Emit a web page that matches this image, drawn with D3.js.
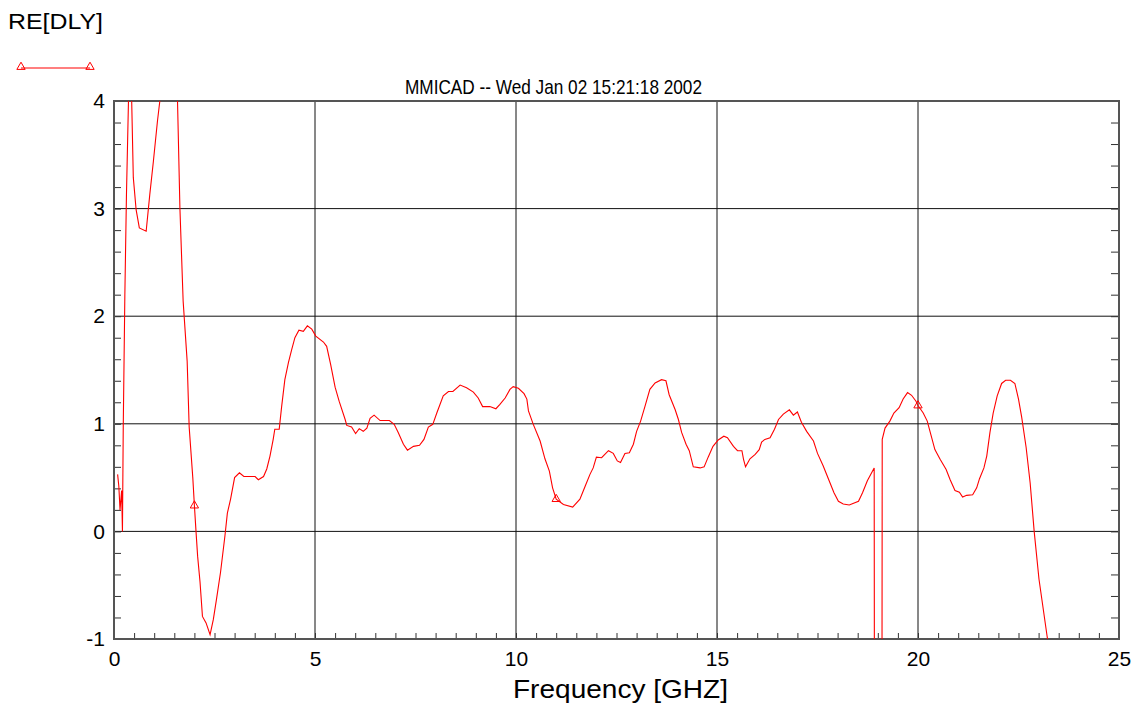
<!DOCTYPE html>
<html><head><meta charset="utf-8">
<script src="https://cdn.jsdelivr.net/npm/d3@7"></script>
<style>body{margin:0;background:#fff}svg{display:block}text{font-family:"Liberation Sans",Arial,sans-serif;fill:#000}</style>
</head><body>
<script>
const freq = [0.09,0.12,0.15,0.19,0.21,0.23,0.27,0.31,0.36,0.40,0.44,0.48,0.55,0.63,0.8,0.89,0.98,1.08,1.14,1.36,1.58,1.64,1.72,1.82,1.87,1.96,2.0,2.04,2.08,2.14,2.2,2.29,2.39,2.47,2.55,2.65,2.76,2.82,2.9,3.0,3.12,3.23,3.51,3.59,3.72,3.8,3.88,3.96,4.0,4.11,4.17,4.25,4.34,4.42,4.5,4.6,4.71,4.81,4.92,5.02,5.21,5.29,5.39,5.5,5.6,5.75,5.79,5.91,6.01,6.1,6.2,6.29,6.37,6.47,6.62,6.85,6.97,7.07,7.2,7.3,7.45,7.6,7.71,7.82,7.93,8.03,8.19,8.32,8.43,8.61,8.77,8.94,9.06,9.17,9.35,9.5,9.6,9.73,9.85,9.93,10.06,10.2,10.27,10.31,10.43,10.6,10.72,10.83,10.91,11.0,11.18,11.41,11.59,11.72,11.84,11.92,12.0,12.13,12.3,12.42,12.52,12.6,12.71,12.82,12.92,13.0,13.1,13.21,13.33,13.46,13.62,13.73,13.81,13.96,14.04,14.12,14.23,14.31,14.41,14.58,14.68,14.78,14.9,15.03,15.17,15.26,15.41,15.51,15.62,15.66,15.71,15.82,15.95,16.05,16.11,16.19,16.32,16.43,16.53,16.65,16.8,16.9,17.0,17.1,17.23,17.4,17.5,17.64,17.79,17.91,18.02,18.14,18.29,18.52,18.62,18.74,18.91,18.92,19.10,19.11,19.18,19.3,19.4,19.53,19.63,19.74,19.84,19.95,20.0,20.13,20.23,20.32,20.42,20.55,20.7,20.8,20.92,21.03,21.11,21.21,21.36,21.46,21.53,21.64,21.71,21.79,21.87,21.97,22.08,22.18,22.3,22.41,22.5,22.58,22.69,22.79,22.89,23.01,23.21,23.3];
const dly = [0.53,0.42,0.2,0.38,0.0,0.97,2.2,3.13,4.0,4.6,4.0,3.29,2.99,2.82,2.79,3.13,3.44,3.81,4.0,4.6,4.0,3.0,2.14,1.58,0.97,0.5,0.24,0.0,-0.23,-0.47,-0.79,-0.85,-0.96,-0.82,-0.63,-0.38,-0.04,0.17,0.3,0.5,0.545,0.51,0.51,0.48,0.51,0.58,0.7,0.855,0.95,0.95,1.16,1.41,1.57,1.69,1.8,1.87,1.86,1.91,1.88,1.815,1.76,1.72,1.55,1.34,1.21,1.04,0.985,0.97,0.91,0.955,0.93,0.96,1.05,1.08,1.03,1.03,0.995,0.92,0.81,0.755,0.79,0.8,0.855,0.97,0.995,1.1,1.26,1.3,1.3,1.36,1.335,1.295,1.24,1.16,1.16,1.14,1.18,1.24,1.32,1.345,1.33,1.28,1.23,1.12,0.995,0.84,0.675,0.56,0.405,0.3,0.25,0.226,0.3,0.42,0.53,0.59,0.69,0.685,0.75,0.725,0.655,0.64,0.725,0.73,0.81,0.93,1.025,1.165,1.32,1.38,1.41,1.4,1.27,1.13,1.04,0.92,0.81,0.75,0.6,0.59,0.6,0.69,0.79,0.85,0.885,0.87,0.79,0.75,0.75,0.67,0.6,0.675,0.715,0.76,0.83,0.855,0.87,0.95,1.04,1.09,1.13,1.08,1.11,1.015,0.93,0.84,0.725,0.61,0.47,0.36,0.28,0.255,0.245,0.28,0.36,0.47,0.59,-3,-3,0.855,0.96,1.025,1.1,1.15,1.23,1.29,1.265,1.21,1.17,1.1,1.025,0.9,0.76,0.67,0.575,0.48,0.38,0.365,0.32,0.335,0.34,0.405,0.49,0.59,0.7,0.92,1.1,1.26,1.375,1.405,1.405,1.375,1.23,1.06,0.78,0.45,0.0,-0.445,-0.97,-1.2];
const markerFreq = [2, 11, 20];
const markerDly = [0.24, 0.3, 1.17];
const xTicks = [0,5,10,15,20,25];
const yTicks = [-1,0,1,2,3,4];
const seriesName = "RE[DLY]";
const title = "MMICAD -- Wed Jan 02 15:21:18 2002";
const xLabel = "Frequency [GHZ]";

const W = 1140, H = 708;
const m = {left:114, right:21, top:101, bottom:69};
const svg = d3.select("body").append("svg").attr("width",W).attr("height",H);
const x = d3.scaleLinear().domain([0,25]).range([m.left, W-m.right]);
const y = d3.scaleLinear().domain([-1,4]).range([H-m.bottom, m.top]);
const pw = W-m.left-m.right, ph = H-m.top-m.bottom;

svg.append("defs").append("clipPath").attr("id","clip")
  .append("rect").attr("x",m.left).attr("y",m.top).attr("width",pw).attr("height",ph);

// grid
const g = svg.append("g");
g.selectAll(".gx").data(xTicks.slice(1,-1)).join("line")
  .attr("x1",d=>x(d)).attr("x2",d=>x(d)).attr("y1",m.top).attr("y2",H-m.bottom)
  .attr("stroke","#111").attr("stroke-width",1);
g.selectAll(".gy").data(yTicks.slice(1,-1)).join("line")
  .attr("y1",d=>y(d)).attr("y2",d=>y(d)).attr("x1",m.left).attr("x2",W-m.right)
  .attr("stroke","#111").attr("stroke-width",1);

// minor ticks
const yMinor = d3.range(-1,4.001,0.2).map(v=>+v.toFixed(1));
const xMinor = d3.range(0,25.001,0.5);
const axL = svg.append("g").attr("transform",`translate(${m.left},0)`)
  .call(d3.axisRight(y).tickValues(yMinor).tickSize(7).tickFormat(""));
const axR = svg.append("g").attr("transform",`translate(${W-m.right},0)`)
  .call(d3.axisLeft(y).tickValues(yMinor).tickSize(8).tickFormat(""));
const axB = svg.append("g").attr("transform",`translate(0,${H-m.bottom})`)
  .call(d3.axisTop(x).tickValues(xMinor).tickSize(6).tickFormat(""));
[axL,axR,axB].forEach(a=>{a.select(".domain").remove();a.selectAll("line").attr("stroke","#333");});

// frame
svg.append("rect").attr("x",m.left).attr("y",m.top).attr("width",pw).attr("height",ph)
  .attr("fill","none").attr("stroke","#555").attr("stroke-width",2);

// tick labels
const fmt = d => String(d);
const yl = svg.append("g").attr("transform",`translate(${m.left},0)`)
  .call(d3.axisLeft(y).tickValues(yTicks).tickSize(0).tickPadding(9).tickFormat(fmt));
yl.select(".domain").remove();
yl.selectAll("text").style("font-size","21px").attr("font-family","Liberation Sans, Arial, sans-serif").attr("fill","#000");
const xl = svg.append("g").attr("transform",`translate(0,${H-m.bottom})`)
  .call(d3.axisBottom(x).tickValues(xTicks).tickSize(0).tickPadding(12).tickFormat(fmt));
xl.select(".domain").remove();
xl.selectAll("text").style("font-size","21px").attr("font-family","Liberation Sans, Arial, sans-serif").attr("fill","#000");

// line
const pts = freq.map((f,i)=>[f,dly[i]]);
svg.append("path").datum(pts).attr("clip-path","url(#clip)")
  .attr("d",d3.line().x(d=>x(d[0])).y(d=>y(d[1])))
  .attr("fill","none").attr("stroke","#ff0000").attr("stroke-width",1.1);

// markers
const tri = d3.symbol().type(d3.symbolTriangle).size(30);
svg.selectAll(".mk").data(markerFreq.map((f,i)=>[f,markerDly[i]])).join("path")
  .attr("transform",d=>`translate(${x(d[0])},${y(d[1])})`).attr("d",tri)
  .attr("fill","none").attr("stroke","#ff0000").attr("stroke-width",1);

// legend
svg.append("text").attr("x",8).attr("y",29).style("font-size","22px").attr("textLength",95).attr("lengthAdjust","spacingAndGlyphs").text(seriesName);
svg.append("line").attr("x1",21).attr("x2",90).attr("y1",68).attr("y2",68).attr("stroke","#ff0000").attr("stroke-width",1.1);
svg.selectAll(".lm").data([21,90]).join("path").attr("transform",d=>`translate(${d},67)`).attr("d",tri)
  .attr("fill","none").attr("stroke","#ff0000").attr("stroke-width",1);

// title
svg.append("text").attr("x",405).attr("y",94).style("font-size","21px").attr("textLength",297).attr("lengthAdjust","spacingAndGlyphs").text(title);
// x label
svg.append("text").attr("x",513).attr("y",698).style("font-size","26px").attr("textLength",215).attr("lengthAdjust","spacingAndGlyphs").text(xLabel);
</script>
</body></html>
